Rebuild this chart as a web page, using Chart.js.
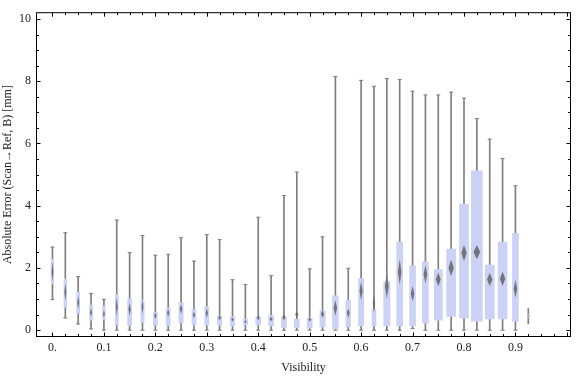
<!DOCTYPE html>
<html>
<head>
<meta charset="utf-8">
<script src="https://cdn.jsdelivr.net/npm/chart.js@4.4.0/dist/chart.umd.min.js"></script>
<style>
    html, body { margin: 0; padding: 0; background: #fff; }
</style>
</head>
<body>
<canvas id="boxChart" width="576" height="377"></canvas>
<script>
// Visibility bins
const categories = [0, 0.025, 0.05, 0.075, 0.1, 0.125, 0.15, 0.175, 0.2, 0.225,
    0.25, 0.275, 0.3, 0.325, 0.35, 0.375, 0.4, 0.425, 0.45, 0.475,
    0.5, 0.525, 0.55, 0.575, 0.6, 0.625, 0.65, 0.675, 0.7, 0.725,
    0.75, 0.775, 0.8, 0.825, 0.85, 0.875, 0.9, 0.925];

const whiskerLow = [0.98, 0.39, 0.20, 0.04, 0, 0, 0, 0, 0, 0,
    0, 0, 0, 0, 0, 0, 0, 0, 0, 0,
    0, 0, 0, 0, 0, 0, 0, 0, 0.05, 0,
    0, 0, 0, 0, 0, 0, 0, 0.20];
const whiskerHigh = [2.67, 3.13, 1.72, 1.18, 0.99, 3.54, 2.49, 3.04, 2.41, 2.44,
    2.97, 2.22, 3.07, 2.91, 1.62, 1.47, 3.63, 1.75, 4.33, 5.08,
    1.97, 3.00, 8.15, 1.99, 8.03, 7.84, 8.09, 8.06, 7.68, 7.56,
    7.56, 7.65, 7.46, 6.80, 6.14, 5.52, 4.64, 0.69];
const q1 = [1.49, 0.74, 0.54, 0.32, 0.34, 0.18, 0.16, 0.26, 0.16, 0.14,
    0.23, 0.17, 0.17, 0.17, 0.14, 0.18, 0.17, 0.14, 0.08, 0.08,
    0.07, 0.10, 0.04, 0.10, 0.14, 0.14, 0.14, 0.14, 0.14, 0.23,
    0.32, 0.44, 0.39, 0.29, 0.36, 0.36, 0.29, 0.40];
const q3 = [2.28, 1.65, 1.22, 0.81, 0.77, 1.15, 1.00, 0.97, 0.57, 0.72,
    0.88, 0.66, 0.75, 0.47, 0.44, 0.35, 0.42, 0.47, 0.44, 0.35,
    0.39, 0.63, 1.10, 0.97, 1.66, 0.67, 1.55, 2.83, 2.07, 2.20,
    1.95, 2.61, 4.05, 5.12, 2.09, 2.83, 3.11, 0.50];
// mean and its confidence half-range (the diamonds)
const means = [1.88, 1.23, 0.89, 0.57, 0.52, 0.75, 0.67, 0.75, 0.46, 0.55,
    0.68, 0.49, 0.55, 0.40, 0.34, 0.27, 0.40, 0.36, 0.41, 0.50,
    0.34, 0.52, 0.71, 0.55, 1.26, 0.84, 1.41, 1.87, 1.17, 1.80,
    1.63, 2.00, 2.48, 2.51, 1.63, 1.65, 1.33, 0.45];
const ciHalf = [0.32, 0.28, 0.2, 0.15, 0.12, 0.3, 0.2, 0.22, 0.1, 0.12,
    0.15, 0.1, 0.15, 0.08, 0.06, 0.05, 0.08, 0.07, 0.1, 0.12,
    0.06, 0.12, 0.25, 0.15, 0.3, 0.3, 0.4, 0.41, 0.25, 0.30,
    0.22, 0.26, 0.26, 0.23, 0.21, 0.23, 0.29, 0.03];
// relative box width (sample weight)
const boxWeight = [2.5, 2.7, 3, 3, 2.7, 3, 4, 3.3, 4, 4,
    4.3, 4, 4, 4.5, 4.5, 4.5, 5, 5, 5, 5,
    5, 5.3, 5.7, 4.7, 5.3, 4, 6.3, 6, 6, 6,
    8, 9, 9, 11, 9, 9, 6, 2];

const xTickLabels = [0, 0.1, 0.2, 0.3, 0.4, 0.5, 0.6, 0.7, 0.8, 0.9];
const yTickLabels = [0, 2, 4, 6, 8, 10];

const BOX_COLOR = 'rgb(204, 210, 246)';
const WHISKER_COLOR = '#7f7f7f';
const SERIF = "'Liberation Serif', 'Times New Roman', serif";

// Mathematica style frame with inward ticks + mean diamonds
const mmaPlugin = {
    id: 'mmaPlugin',
    afterDatasetsDraw(chart) {
        const { ctx, scales: { x, y } } = chart;
        ctx.save();
        ctx.fillStyle = 'rgba(105, 105, 105, 0.9)';
        ctx.filter = 'blur(0.6px)';
        categories.forEach((c, i) => {
            const px = x.getPixelForValue(c);
            const top = y.getPixelForValue(means[i] + ciHalf[i]);
            const mid = y.getPixelForValue(means[i]);
            const bot = y.getPixelForValue(means[i] - ciHalf[i]);
            const hw = Math.max(1, boxWeight[i] * 0.3);
            ctx.beginPath();
            ctx.moveTo(px, top);
            ctx.lineTo(px + hw, mid);
            ctx.lineTo(px, bot);
            ctx.lineTo(px - hw, mid);
            ctx.closePath();
            ctx.fill();
        });
        ctx.restore();
    },
    afterDraw(chart) {
        const { ctx, chartArea: a, scales: { x, y } } = chart;
        ctx.save();
        ctx.strokeStyle = '#000';
        ctx.lineWidth = 1;
        ctx.strokeRect(a.left + 0.5, a.top + 0.5, a.right - a.left - 1, a.bottom - a.top - 1);
        ctx.beginPath();
        for (let k = 0; k <= 40; k++) {
            const px = Math.round(x.getPixelForValue(k * 0.025)) + 0.5;
            const len = k % 4 === 0 ? 4.5 : 3;
            ctx.moveTo(px, a.bottom); ctx.lineTo(px, a.bottom - len);
            ctx.moveTo(px, a.top); ctx.lineTo(px, a.top + len);
        }
        for (let k = 0; k <= 20; k++) {
            const py = Math.round(y.getPixelForValue(k * 0.5)) + 0.5;
            const len = k % 4 === 0 ? 4.5 : 3;
            ctx.moveTo(a.left, py); ctx.lineTo(a.left + len, py);
            ctx.moveTo(a.right, py); ctx.lineTo(a.right - len, py);
        }
        ctx.stroke();
        ctx.restore();
    }
};

const boxSets = categories.map((c, i) => ({
    type: 'bar',
    data: [{ x: c, y: [q1[i], q3[i]] }],
    barThickness: boxWeight[i],
    backgroundColor: BOX_COLOR,
    borderWidth: 0,
    grouped: false,
    order: 1
}));

const whiskerSet = {
    type: 'bar',
    data: categories.map((c, i) => ({ x: c, y: [whiskerLow[i], whiskerHigh[i]] })),
    barThickness: 1,
    backgroundColor: WHISKER_COLOR,
    borderWidth: 0,
    grouped: false,
    order: 3
};

const capSet = {
    type: 'scatter',
    data: categories.slice(0, -1).flatMap((c, i) => [
        { x: c, y: whiskerLow[i] }, { x: c, y: whiskerHigh[i] }
    ]),
    pointStyle: 'line',
    pointRadius: 2,
    borderColor: WHISKER_COLOR,
    borderWidth: 1,
    order: 2
};

const canvas = document.getElementById('boxChart');
if (canvas) {
    new Chart(canvas.getContext('2d'), {
        type: 'bar',
        data: { datasets: [...boxSets, capSet, whiskerSet] },
        options: {
            responsive: false,
            animation: false,
            layout: { padding: { top: 4, right: 1, left: 0, bottom: 0 } },
            plugins: { legend: { display: false }, tooltip: { enabled: false } },
            scales: {
                x: {
                    type: 'linear',
                    min: -0.032,
                    max: 1.008,
                    offset: false,
                    grid: { display: false, drawTicks: false, offset: false },
                    border: { display: false },
                    afterBuildTicks: s => { s.ticks = xTickLabels.map(v => ({ value: v })); },
                    afterFit: s => { s.height = 40; },
                    ticks: {
                        autoSkip: false,
                        maxRotation: 0,
                        padding: 4,
                        color: '#222',
                        font: { family: SERIF, size: 12 },
                        callback: v => v === 0 ? '0.' : v.toFixed(1)
                    },
                    title: {
                        display: true,
                        text: 'Visibility',
                        color: '#222',
                        padding: { top: 0, bottom: 2 },
                        font: { family: SERIF, size: 12 }
                    }
                },
                y: {
                    type: 'linear',
                    min: -0.22,
                    max: 10.22,
                    grid: { display: false, drawTicks: false },
                    border: { display: false },
                    afterBuildTicks: s => { s.ticks = yTickLabels.map(v => ({ value: v })); },
                    afterFit: s => { s.width = 36; },
                    ticks: {
                        padding: 5,
                        color: '#222',
                        font: { family: SERIF, size: 12 }
                    },
                    title: {
                        display: true,
                        text: 'Absolute Error (Scan\u2192Ref, B) [mm]',
                        color: '#222',
                        padding: { top: 1, bottom: 0 },
                        font: { family: SERIF, size: 12 }
                    }
                }
            }
        },
        plugins: [mmaPlugin]
    });
} else {
    console.error('canvas not found');
}
</script>
</body>
</html>
